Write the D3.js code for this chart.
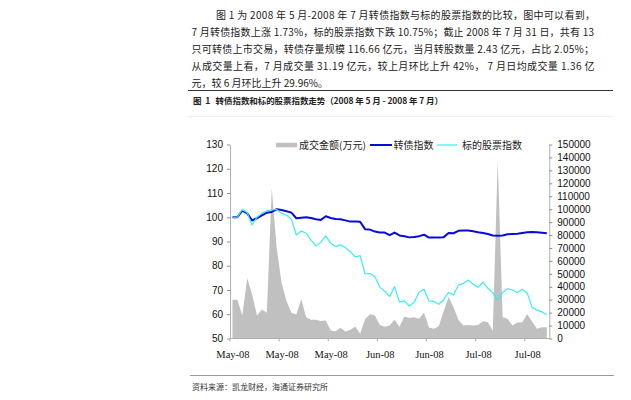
<!DOCTYPE html>
<html><head><meta charset="utf-8">
<script src="https://cdn.jsdelivr.net/npm/d3@7"></script>
<style>body{margin:0;background:#fff;} svg{display:block} text{white-space:pre}</style>
</head><body>
<script>
const paragraphLines = [
  "图 1 为 2008 年 5 月-2008 年 7 月转债指数与标的股票指数的比较，图中可以看到，",
  "7 月转债指数上涨 1.73%，标的股票指数下跌 10.75%；截止 2008 年 7 月 31 日，共有 13",
  "只可转债上市交易，转债存量规模 116.66 亿元，当月转股数量 2.43 亿元，占比 2.05%；",
  "从成交量上看，7 月成交量 31.19 亿元，较上月环比上升 42%， 7 月日均成交量 1.36 亿",
  "元，较 6 月环比上升 29.96%。"
];
const chartTitle = "图  1   转债指数和标的股票指数走势（2008 年 5 月 - 2008 年 7 月）";
const sourceNote = "资料来源：凯龙财经，海通证券研究所";

const dates = [
  "2008-05-01","2008-05-02","2008-05-05","2008-05-06","2008-05-07","2008-05-08","2008-05-09",
  "2008-05-12","2008-05-13","2008-05-14","2008-05-15","2008-05-16","2008-05-19","2008-05-20",
  "2008-05-21","2008-05-22","2008-05-23","2008-05-26","2008-05-27","2008-05-28","2008-05-29",
  "2008-05-30","2008-06-02","2008-06-03","2008-06-04","2008-06-05","2008-06-06","2008-06-10",
  "2008-06-11","2008-06-12","2008-06-13","2008-06-16","2008-06-17","2008-06-18","2008-06-19",
  "2008-06-20","2008-06-23","2008-06-24","2008-06-25","2008-06-26","2008-06-27","2008-06-30",
  "2008-07-01","2008-07-02","2008-07-03","2008-07-04","2008-07-07","2008-07-08","2008-07-09",
  "2008-07-10","2008-07-11","2008-07-14","2008-07-15","2008-07-16","2008-07-17","2008-07-18",
  "2008-07-21","2008-07-22","2008-07-23","2008-07-24","2008-07-25","2008-07-28","2008-07-29",
  "2008-07-30","2008-07-31"
];
const volume = [
  30000,30000,17800,46600,34000,17800,22400,19900,116000,70000,
  43000,29000,20000,18500,30500,16500,14500,14500,13500,14000,
  6200,5600,8300,5400,6800,9300,3600,15000,18800,17800,
  10500,9000,10000,14500,9000,17100,15800,16500,15200,20000,
  8500,7450,9400,21000,32000,24200,14500,10000,10500,10000,
  10500,13400,12600,6000,138000,16500,15200,10050,12400,12600,
  19000,13200,7450,8750,8750
];
const cbIndex = [
  100.0,100.0,102.7,101.6,98.7,99.6,100.8,101.9,102.2,103.3,
  103.0,102.5,101.9,99.6,99.8,100.0,99.7,99.2,98.9,100.4,
  99.7,99.3,99.2,98.7,98.2,98.2,98.1,95.1,94.9,94.1,
  93.7,93.7,92.6,93.7,92.5,92.2,91.7,91.9,92.2,92.8,
  91.6,91.6,91.6,91.8,93.5,93.4,94.4,94.5,94.5,94.2,
  93.8,93.5,93.1,92.5,92.4,92.5,93.0,93.1,93.2,93.5,
  93.8,93.9,93.8,93.6,93.4
];
const stockIndex = [
  100.0,100.0,103.3,101.9,96.8,100.0,101.6,102.7,103.0,103.2,
  101.6,100.9,99.2,92.7,94.3,93.5,90.6,88.2,89.7,92.3,
  89.3,87.9,88.6,87.5,85.8,83.6,84.2,76.6,76.8,75.5,
  71.2,69.5,67.3,71.4,65.0,65.5,63.4,65.0,69.1,70.3,
  65.5,65.3,64.1,66.0,69.0,68.0,72.0,72.75,74.1,72.4,
  71.1,73.2,70.7,68.8,66.0,69.0,70.5,70.0,69.0,70.3,
  68.8,62.8,61.7,61.0,59.7
];
const leftTicks = [50,60,70,80,90,100,110,120,130];
const rightTicks = [0,10000,20000,30000,40000,50000,60000,70000,80000,90000,100000,110000,120000,130000,140000,150000];
const xTickIndex = [0,10,20,30,40,50,60];
const xTickLabels = ["May-08","May-08","May-08","Jun-08","Jun-08","Jul-08","Jul-08"];
const legendLabels = ["成交金额(万元)","转债指数","标的股票指数"];

const W = 631, H = 400;
const cjk = "'Noto Sans CJK SC', sans-serif";
const svg = d3.select("body").append("svg").attr("width", W).attr("height", H);

// paragraph
const paraX = [216,191.5,191.5,191.5,191.5];
const paraLen = [379,402.5,402.5,403,null];
const paraY = [15.7,32.3,49,66.7,83.3];
paragraphLines.forEach((t,i)=>{
  const el = svg.append("text").attr("x",paraX[i]).attr("y",paraY[i]).attr("dy","0.36em")
    .attr("font-family",cjk).attr("font-size",10).attr("fill","#222").text(t);
  if (paraLen[i]) el.attr("textLength",paraLen[i]).attr("lengthAdjust","spacing");
});

// title rules
svg.append("line").attr("x1",188).attr("x2",613).attr("y1",90.5).attr("y2",90.5).attr("stroke","#333").attr("stroke-width",1);
svg.append("text").attr("x",193).attr("y",100.5).attr("dy","0.36em").attr("font-family",cjk)
  .attr("font-size",8.5).attr("font-weight","bold").attr("fill","#222")
  .attr("textLength",250).attr("lengthAdjust","spacing").text(chartTitle);
svg.append("line").attr("x1",188).attr("x2",613).attr("y1",116.5).attr("y2",116.5).attr("stroke","#eeeeee").attr("stroke-width",1);

// scales
const plotL = 230, plotR = 549.3, plotT = 144.5, plotB = 338.5;
const x = d3.scaleBand().domain(dates).range([plotL, plotR]).paddingInner(0).paddingOuter(0);
const bw = x.bandwidth();
const cx = i => x(dates[i]) + bw/2;
const yL = d3.scaleLinear().domain([50,130]).range([plotB, plotT]);
const yR = d3.scaleLinear().domain([0,150000]).range([plotB, plotT]);

// area
const area = d3.area().x((d,i)=>cx(i)).y0(yR(0)).y1(d=>yR(d));
svg.append("path").datum(volume).attr("d",area).attr("fill","#c0c0c0");

// lines
const lineL = d3.line().x((d,i)=>cx(i)).y(d=>yL(d));
svg.append("path").datum(cbIndex).attr("d",lineL).attr("fill","none")
  .attr("stroke","#0a0ad8").attr("stroke-width",2).attr("stroke-linejoin","round");
svg.append("path").datum(stockIndex).attr("d",lineL).attr("fill","none")
  .attr("stroke","#38eef4").attr("stroke-width",1.2).attr("stroke-linejoin","round");

// axes
const axL = svg.append("g").attr("transform",`translate(${plotL},0)`)
  .call(d3.axisLeft(yL).tickValues(leftTicks).tickSize(3).tickSizeOuter(0).tickPadding(4));
const axR = svg.append("g").attr("transform",`translate(${plotR},0)`)
  .call(d3.axisRight(yR).tickValues(rightTicks).tickSize(3).tickSizeOuter(0).tickPadding(5).tickFormat(d3.format("d")));
[axL,axR].forEach(g=>{
  g.select(".domain").attr("stroke","#b0b0b0");
  g.selectAll(".tick line").attr("stroke","#909090");
  g.selectAll(".tick text").attr("font-family","'Liberation Sans', Arial, sans-serif").attr("font-size",10).attr("fill","#111");
});

// bottom axis
const axB = svg.append("g");
axB.append("line").attr("x1",plotL).attr("x2",plotR).attr("y1",plotB).attr("y2",plotB).attr("stroke","#b0b0b0");
axB.selectAll("line.tk").data(xTickIndex).join("line").attr("class","tk")
  .attr("x1",d=>x(dates[d])).attr("x2",d=>x(dates[d])).attr("y1",plotB).attr("y2",plotB+3).attr("stroke","#b0b0b0");
axB.selectAll("text").data(xTickIndex).join("text")
  .attr("x",d=>cx(d)+0.5).attr("y",354.5).attr("dy","0.35em").attr("text-anchor","middle")
  .attr("font-family","'Liberation Serif', 'Times New Roman', serif").attr("font-size",10.5).attr("fill","#111")
  .text((d,i)=>xTickLabels[i]);

// legend
const lg = svg.append("g").attr("font-family",cjk).attr("font-size",10).attr("fill","#222");
lg.append("rect").attr("x",276).attr("y",142.8).attr("width",21).attr("height",4.5).attr("fill","#c0c0c0");
lg.append("text").attr("x",299).attr("y",145).attr("dy","0.36em").text(legendLabels[0]);
lg.append("line").attr("x1",370).attr("x2",392).attr("y1",145).attr("y2",145).attr("stroke","#0a0ad8").attr("stroke-width",2);
lg.append("text").attr("x",393.5).attr("y",145).attr("dy","0.36em").text(legendLabels[1]);
lg.append("line").attr("x1",437).attr("x2",457).attr("y1",145).attr("y2",145).attr("stroke","#38eef4").attr("stroke-width",1.2);
lg.append("text").attr("x",462).attr("y",145).attr("dy","0.36em").text(legendLabels[2]);

// source
svg.append("line").attr("x1",190).attr("x2",614).attr("y1",375.5).attr("y2",375.5).attr("stroke","#999").attr("stroke-width",1);
svg.append("text").attr("x",192).attr("y",387.5).attr("dy","0.36em").attr("font-family",cjk)
  .attr("font-size",8).attr("fill","#333").text(sourceNote);
</script>
</body></html>
